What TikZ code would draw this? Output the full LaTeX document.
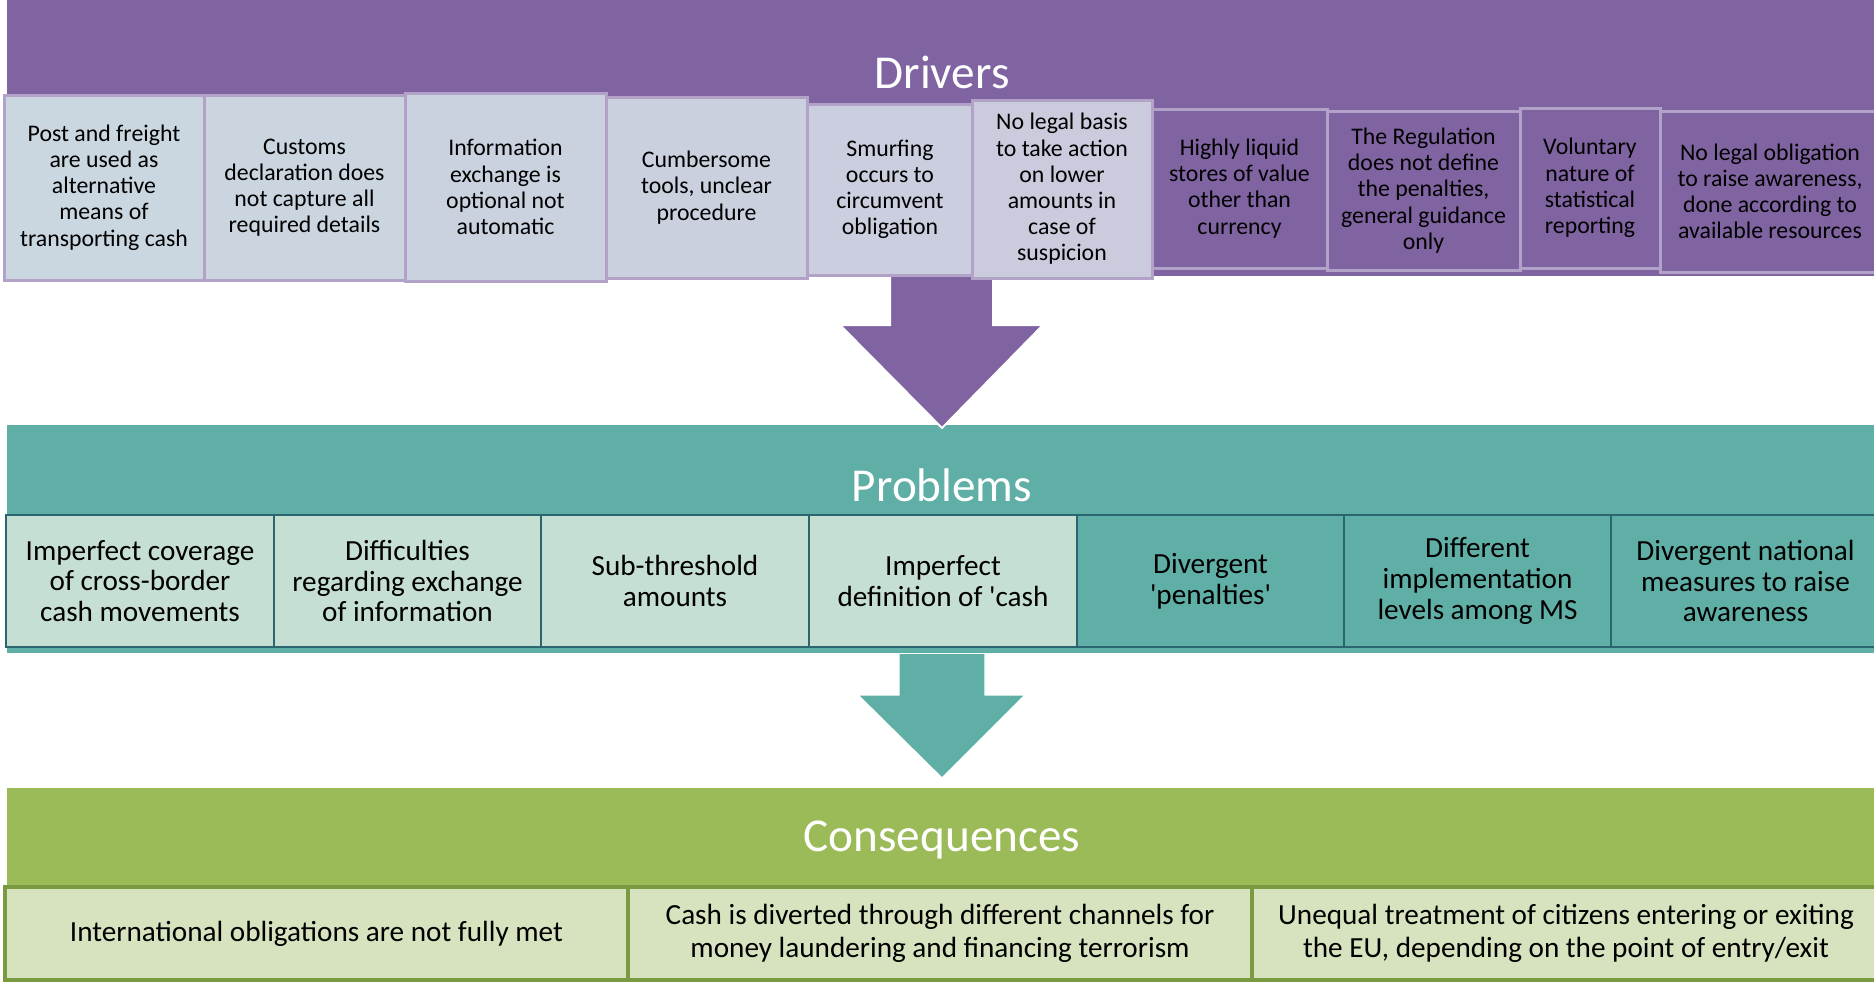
\documentclass[tikz,border=0pt]{standalone}
\usepackage{fontspec}
\newfontfamily\calfont{Carlito}
\definecolor{purpleband}{HTML}{8064A2}
\definecolor{purpleline}{HTML}{B3A2C7}
\definecolor{tealband}{HTML}{5FAFA6}
\definecolor{tealline}{HTML}{2B6570}
\definecolor{teallight}{HTML}{C6DFD3}
\definecolor{greenband}{HTML}{9BBB59}
\definecolor{greenline}{HTML}{7A9A42}
\definecolor{greenlight}{HTML}{D6E3BE}
\definecolor{dfillA}{HTML}{CBD7E0}
\definecolor{dfillB}{HTML}{CBD5DF}
\definecolor{dfillC}{HTML}{CBD2DF}
\definecolor{dfillD}{HTML}{CBD0DE}
\definecolor{dfillE}{HTML}{CBCEDE}
\definecolor{dfillF}{HTML}{CACBDC}
\newcommand\bx[7]{\node[#1, minimum width={((#5)-(#3))*0.5pt}, minimum height={((#6)-(#4))*0.5pt}] (#2) at ({((#3)+(#5))/2},{((#4)+(#6))/2}) {#7};}
\begin{document}
\begin{tikzpicture}[x=0.5pt,y=-0.5pt,
  band/.style={draw=none},
  dbox/.style={draw=purpleline, line width=1.5pt, align=center, inner sep=0pt, text=black,
    font=\calfont\fontsize{11.9}{13.1}\selectfont},
  pbox/.style={draw=tealline, line width=1.2pt, align=center, inner sep=0pt, text=black,
    font=\calfont\fontsize{14.6}{15.4}\selectfont},
  cbox/.style={draw=greenline, line width=1.6pt, fill=greenlight, align=center, inner sep=0pt, text=black,
    font=\calfont\fontsize{14.6}{16.7}\selectfont},
  title/.style={text=white, inner sep=0pt, font=\calfont\fontsize{23.6}{28}\selectfont},
  bigarrow/.style={draw=white, line width=1pt, line join=miter}]
\useasboundingbox (0,0) rectangle (1874,981);
% bands
\fill[purpleband] (7,0) rectangle (1880,276);
\fill[tealband] (7,425) rectangle (1880,653);
\fill[greenband] (7,788) rectangle (1880,990);
% titles
\node[title] (tdrv) at (942,72) {Drivers};
\node[title] (tprb) at (942,485) {Problems};
\node[title] (tcon) at (942,840) {Consequences};
% arrow 1
\coordinate (a1s) at (942,268);
\filldraw[bigarrow, fill=purpleband] (890,268) -- (890,325) -- (840,325) -- (942,428) -- (1043,325) -- (993,325) -- (993,268);
% arrow 2
\filldraw[bigarrow, fill=tealband, line width=0.6pt] (899,654) -- (899,695) -- (858,695) -- (942,778) -- (1025,695) -- (985,695) -- (985,654);
% driver boxes
\bx{dbox, fill=dfillA}{d1}{4}{95}{204}{280}{Post and freight\\are used as\\alternative\\means of\\transporting cash}
\bx{dbox, fill=dfillB}{d2}{204}{95}{405}{280}{Customs\\declaration does\\not capture all\\required details}
\bx{dbox, fill=dfillD}{d4}{606}{97}{807}{278}{Cumbersome\\tools, unclear\\procedure}
\bx{dbox, fill=dfillE}{d5}{807}{104}{973}{275}{Smurfing\\occurs to\\circumvent\\obligation}
\bx{dbox, fill=purpleband}{d7}{1152}{109}{1327}{268}{Highly liquid\\stores of value\\other than\\currency}
\bx{dbox, fill=purpleband}{d8}{1327}{111}{1520}{270}{The Regulation\\does not define\\the penalties,\\general guidance\\only}
\bx{dbox, fill=purpleband}{d10}{1660}{111}{1880}{272}{No legal obligation\\to raise awareness,\\done according to\\available resources}
\bx{dbox, fill=purpleband}{d9}{1520}{108}{1660}{268}{Voluntary\\nature of\\statistical\\reporting}
\bx{dbox, fill=dfillC}{d3}{405}{93}{606}{281}{Information\\exchange is\\optional not\\automatic}
\bx{dbox, fill=dfillF}{d6}{972}{100}{1152}{278}{No legal basis\\to take action\\on lower\\amounts in\\case of\\suspicion}
% problem boxes
\bx{pbox, fill=teallight}{p1}{6}{515}{274}{647}{Imperfect coverage\\of cross-border\\cash movements}
\bx{pbox, fill=teallight}{p2}{274}{515}{541}{647}{Difficulties\\regarding exchange\\of information}
\bx{pbox, fill=teallight}{p3}{541}{515}{809}{647}{Sub-threshold\\amounts}
\bx{pbox, fill=teallight}{p4}{809}{515}{1077}{647}{Imperfect\\definition of 'cash}
\bx{pbox, fill=tealband}{p5}{1077}{515}{1344}{647}{Divergent\\'penalties'}
\bx{pbox, fill=tealband}{p6}{1344}{515}{1611}{647}{Different\\implementation\\levels among MS}
\bx{pbox, fill=tealband}{p7}{1611}{515}{1880}{647}{Divergent national\\measures to raise\\awareness}
% consequence boxes
\bx{cbox}{c1}{5}{887}{628}{980}{International obligations are not fully met}
\bx{cbox}{c2}{628}{887}{1252}{980}{Cash is diverted through different channels for\\money laundering and financing terrorism}
\bx{cbox}{c3}{1252}{887}{1880}{980}{Unequal treatment of citizens entering or exiting\\the EU, depending on the point of entry/exit}
\end{tikzpicture}
\end{document}
